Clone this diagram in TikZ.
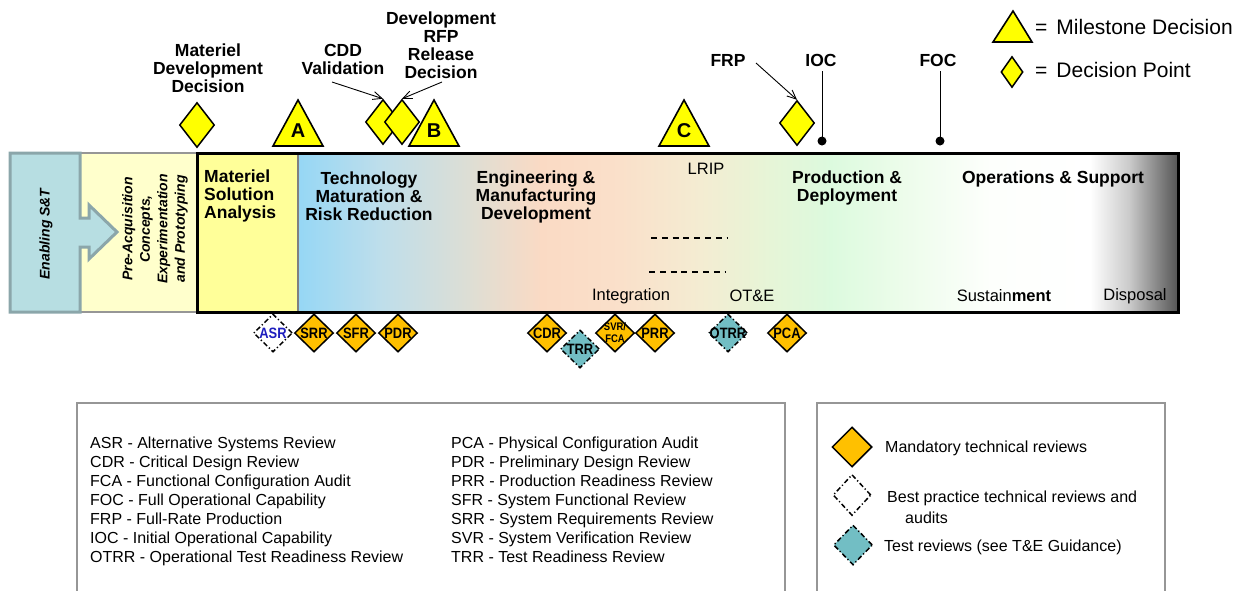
\documentclass[tikz,border=0pt]{standalone}
\usepackage{fontspec}
\usepackage{graphicx}
\setmainfont{Liberation Sans}
\usetikzlibrary{shapes.geometric,arrows.meta}

\definecolor{dyellow}{RGB}{255,255,0}
\definecolor{morange}{RGB}{255,192,0}
\definecolor{tteal}{RGB}{114,190,196}
\definecolor{enbfill}{RGB}{183,222,226}
\definecolor{enbdraw}{RGB}{139,166,170}
\definecolor{prefill}{RGB}{255,255,204}
\definecolor{predraw}{RGB}{150,150,150}
\definecolor{msafill}{RGB}{255,255,153}
\definecolor{legdraw}{RGB}{150,150,150}
\definecolor{asrblue}{RGB}{30,30,190}
\definecolor{sA}{RGB}{150,215,245}
\definecolor{sB}{RGB}{190,222,235}
\definecolor{sC}{RGB}{222,222,212}
\definecolor{sD}{RGB}{250,218,196}
\definecolor{sE}{RGB}{250,224,202}
\definecolor{sF}{RGB}{244,236,210}
\definecolor{sG}{RGB}{232,244,214}
\definecolor{sH}{RGB}{220,250,222}
\definecolor{sI}{RGB}{236,252,234}
\definecolor{sJ}{RGB}{253,255,252}
\definecolor{sK}{RGB}{255,255,255}
\definecolor{sL}{RGB}{200,200,200}
\definecolor{sM}{RGB}{85,85,85}

\newcommand\fsz[2]{\fontsize{#1}{#2}\selectfont}
\newcommand\nar[1]{\scalebox{0.86}[1]{#1}}

\begin{document}
\begin{tikzpicture}[x=1pt,y=-1pt,
  bigb/.style={font=\fsz{17.5}{18}\bfseries, align=center, inner sep=0pt},
  reg/.style={font=\fsz{16.5}{18}, inner sep=0pt},
  legcol/.style={font=\fsz{16}{19}, inner sep=0pt, align=left, anchor=north west},
  legr/.style={font=\fsz{16}{19}, inner sep=0pt, anchor=west},
  dpt/.style={diamond, draw=black, line width=1.5pt, fill=dyellow, minimum width=35pt, minimum height=45pt, inner sep=0pt},
  tri/.style={draw=black, line width=1.6pt, fill=dyellow, line join=miter},
  trilbl/.style={font=\fsz{20}{20}\bfseries, inner sep=0pt},
  revbase/.style={diamond, draw=black, line width=1.5pt, minimum width=39pt, minimum height=38pt, inner sep=0pt},
  revtxt/.style={font=\fsz{15}{12}\bfseries, inner sep=0pt, align=center},
  ddash/.style={dash pattern=on 5pt off 2.5pt on 1.2pt off 2.5pt},
  mand/.style={revbase, fill=morange, label={[revtxt]center:#1}},
  bestp/.style={revbase, fill=white, ddash, label={[revtxt, text=asrblue]center:#1}},
  testr/.style={revbase, fill=tteal, ddash, label={[revtxt]center:#1}},
  arr/.style={-{Straight Barb[length=9pt,width=8pt]}, line width=0.9pt},
  dotn/.style={circle, fill=black, inner sep=0pt, minimum size=9pt},
]
\useasboundingbox (0,0) rectangle (1249,590);

% ---- left boxes
\draw[draw=predraw, fill=prefill, line width=2.5pt] (80,153) rectangle (197,312);
\draw[draw=enbdraw, fill=enbfill, line width=3pt, line join=miter]
  (10,153) -- (80,153) -- (80,218) -- (89,218) -- (89,205) -- (117,232) -- (89,259)
  -- (89,247) -- (80,247) -- (80,312) -- (10,312) -- cycle;
\node[rotate=90, font=\fsz{14}{16}\bfseries\itshape, inner sep=0pt] (ens) at (46,234) {Enabling S\&T};
\node[rotate=90, align=center, font=\fsz{14}{17.5}\bfseries\itshape, inner sep=0pt] (pre) at (155,229)
  {Pre-Acquisition\\Concepts,\\Experimentation\\and Prototyping};

% ---- main phase bar
\fill[msafill] (197,153) rectangle (298,312);
\fill[left color=sA, right color=sB] (298,153) rectangle (381,312);
\fill[left color=sB, right color=sC] (380,153) rectangle (471,312);
\fill[left color=sC, right color=sD] (470,153) rectangle (541,312);
\fill[left color=sD, right color=sE] (540,153) rectangle (621,312);
\fill[left color=sE, right color=sF] (620,153) rectangle (701,312);
\fill[left color=sF, right color=sG] (700,153) rectangle (761,312);
\fill[left color=sG, right color=sH] (760,153) rectangle (831,312);
\fill[left color=sH, right color=sI] (830,153) rectangle (901,312);
\fill[left color=sI, right color=sJ] (900,153) rectangle (991,312);
\fill[left color=sJ, right color=sK] (990,153) rectangle (1091,312);
\fill[left color=sK, right color=sL] (1090,153) rectangle (1131,312);
\fill[left color=sL, right color=sM] (1130,153) rectangle (1178,312);
\draw[gray, line width=1.2pt] (298,153) -- (298,312);
\draw[line width=3pt] (197,153) rectangle (1178,312);

\node[bigb, align=left, anchor=west] (msa) at (204,196) {Materiel\\Solution\\Analysis};
\node[bigb] (tmrr) at (369,196) {Technology\\Maturation \&\\Risk Reduction};
\node[bigb] (emd) at (536,197) {Engineering \&\\Manufacturing\\Development};
\node[bigb] (pd) at (847,188) {Production \&\\Deployment};
\node[bigb] (os) at (1053,179) {Operations \& Support};
\node[reg] (lrip) at (706,169) {LRIP};
\node[reg] (integ) at (631,296) {Integration};
\node[reg] (ote) at (752,296) {OT\&E};
\node[reg] (sust) at (1004,296) {Sustain{\bfseries ment}};
\node[reg] (disp) at (1135,296) {Disposal};
\draw[dash pattern=on 6pt off 4.8pt, line width=1.4pt] (651,238) -- (727,238);
\draw[dash pattern=on 6pt off 4.8pt, line width=1.4pt] (649,272) -- (726,272);

% ---- milestones and decision points
\node[bigb] (mddl) at (208,68) {Materiel\\Development\\Decision};
\node[dpt] (mdd) at (197,125) {};
\draw[tri] (273,146) -- (298,100) -- (323,146) -- cycle;
\node[trilbl] (msA) at (298,131) {A};
\node[bigb] (cddl) at (343,59) {CDD\\Validation};
\node[bigb] (drfpl) at (441,45) {Development\\RFP\\Release\\Decision};
\node[dpt] (cdd) at (383,122) {};
\node[dpt] (drfp) at (402,122) {};
\draw[tri] (409,146) -- (434,100) -- (459,146) -- cycle;
\node[trilbl] (msB) at (434,131) {B};
\coordinate (cddA) at (332,82);
\coordinate (drfpA) at (442,82);
\draw[arr] (cddA) -- (cdd.north);
\draw[arr] (drfpA) -- (drfp.north);
\draw[tri] (659,146) -- (684,100) -- (709,146) -- cycle;
\node[trilbl] (msC) at (684,131) {C};
\node[bigb] (frpl) at (728,60) {FRP};
\node[dpt] (frp) at (797,123) {};
\coordinate (frpA) at (756,63);
\draw[arr] (frpA) -- (frp.north);
\node[bigb] (iocl) at (821,60) {IOC};
\node[dotn] (ioc) at (822,141) {};
\draw[line width=0.8pt] ([yshift=-5pt]iocl.south -| ioc) -- (ioc.center);
\node[bigb] (focl) at (938,60) {FOC};
\node[dotn] (foc) at (940,141) {};
\draw[line width=0.8pt] ([yshift=-5pt]focl.south -| foc) -- (foc.center);

% ---- top-right legend
\draw[tri] (993,42) -- (1013,11) -- (1032,42) -- cycle;
\node[font=\fsz{21}{22}, inner sep=0pt, anchor=west] (msl) at (1035,27) {=\hspace{9pt}Milestone Decision};
\node[dpt, minimum width=22pt, minimum height=31pt] (dpl) at (1012,72) {};
\node[font=\fsz{21}{22}, inner sep=0pt, anchor=west] (dpll) at (1035,70) {=\hspace{9pt}Decision Point};

% ---- technical reviews
\node[bestp={\nar{ASR}}] (asr) at (273,333) {};
\node[mand={\nar{SRR}}] (srr) at (314,333) {};
\node[mand={\nar{SFR}}] (sfr) at (356,333) {};
\node[mand={\nar{PDR}}] (pdr) at (398,333) {};
\node[mand={\nar{CDR}}] (cdr) at (547,333) {};
\node[testr={\nar{TRR}}] (trr) at (580,349) {};
\node[revbase, fill=morange, label={[revtxt, font=\fsz{11}{12}\bfseries]center:\nar{SVR/}\\\nar{FCA}}] (svr) at (615,333) {};
\node[mand={\nar{PRR}}] (prr) at (655,333) {};
\node[testr={\nar{OTRR}}] (otrr) at (728,333) {};
\node[mand={\nar{PCA}}] (pca) at (787,333) {};

% ---- bottom legends
\draw[legdraw, line width=1.2pt] (77,595) -- (77,403) -- (785,403) -- (785,595);
\draw[legdraw, line width=1.2pt] (817,595) -- (817,403) -- (1165,403) -- (1165,595);
\node[legcol] (abbr1) at (90,436.3) {ASR - Alternative Systems Review\\CDR - Critical Design Review\\FCA - Functional Configuration Audit\\FOC - Full Operational Capability\\FRP - Full-Rate Production\\IOC - Initial Operational Capability\\OTRR - Operational Test Readiness Review};
\node[legcol] (abbr2) at (451,436.3) {PCA - Physical Configuration Audit\\PDR - Preliminary Design Review\\PRR - Production Readiness Review\\SFR - System Functional Review\\SRR - System Requirements Review\\SVR - System Verification Review\\TRR - Test Readiness Review};

\node[revbase, fill=morange, minimum width=40pt, minimum height=40pt] (lgm) at (852,447) {};
\node[legr] (lgmt) at (885,448) {Mandatory technical reviews};
\node[revbase, fill=white, ddash, minimum width=38pt, minimum height=41pt] (lgb) at (852,495) {};
\node[legr] (lgbt) at (887,498) {Best practice technical reviews and};
\node[legr] (lgbt2) at (905,518) {audits};
\node[revbase, fill=tteal, ddash, minimum width=39pt, minimum height=40pt] (lgt) at (853,545) {};
\node[legr] (lgtt) at (884,547) {Test reviews (see T\&E Guidance)};
\end{tikzpicture}
\end{document}
